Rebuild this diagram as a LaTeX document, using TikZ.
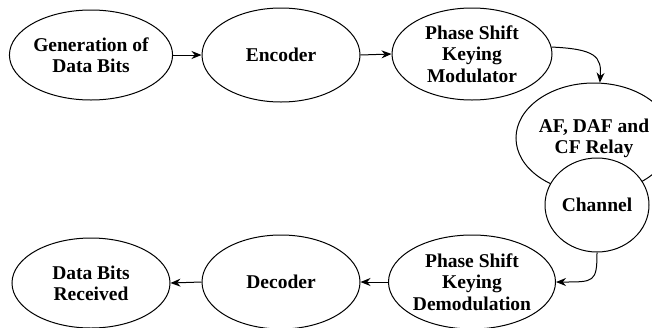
\documentclass[tikz,border=0pt]{standalone}
\usepackage{fontspec}
\setmainfont{Liberation Serif}
\usetikzlibrary{shapes.geometric,arrows.meta}
\begin{document}
\begin{tikzpicture}[x=1pt,y=-1pt,
  bubble/.style={ellipse,draw,line width=1pt,fill=white,inner sep=0pt,align=center,
    font=\fontsize{19.5}{21.3}\selectfont\bfseries},
  arr/.style={line width=1pt,-{Stealth[length=10pt,width=8pt]}}]
\useasboundingbox (0,0) rectangle (652,327);
\node[bubble,minimum width=158,minimum height=90] (gen) at (91,55) {Generation of\\Data Bits};
\node[bubble,minimum width=158,minimum height=94] (enc) at (281,55) {Encoder};
\node[bubble,minimum width=160,minimum height=92] (mod) at (472,54) {Phase Shift\\Keying\\Modulator};
\node[bubble,minimum width=118,minimum height=110] (af) at (594,138) {AF, DAF and\\CF Relay};
\node[bubble,minimum width=104,minimum height=94] (ch) at (597,205) {Channel};
\node[bubble,minimum width=160,minimum height=94] (demod) at (472,282) {Phase Shift\\Keying\\Demodulation};
\node[bubble,minimum width=158,minimum height=94] (dec) at (281,282) {Decoder};
\node[bubble,minimum width=158,minimum height=90] (rec) at (91,283) {Data Bits\\Received};
\draw[arr] (gen.east) -- (enc.west);
\draw[arr] (enc.east) -- (mod.west);
\draw[arr] (mod.5) .. controls +(44,2) and +(2,-26) .. (af.84);
\draw[arr] (ch.south) .. controls +(0,30) and +(38,0) .. (demod.east);
\draw[arr] (demod.west) -- (dec.east);
\draw[arr] (dec.west) -- (rec.east);
\end{tikzpicture}
\end{document}
